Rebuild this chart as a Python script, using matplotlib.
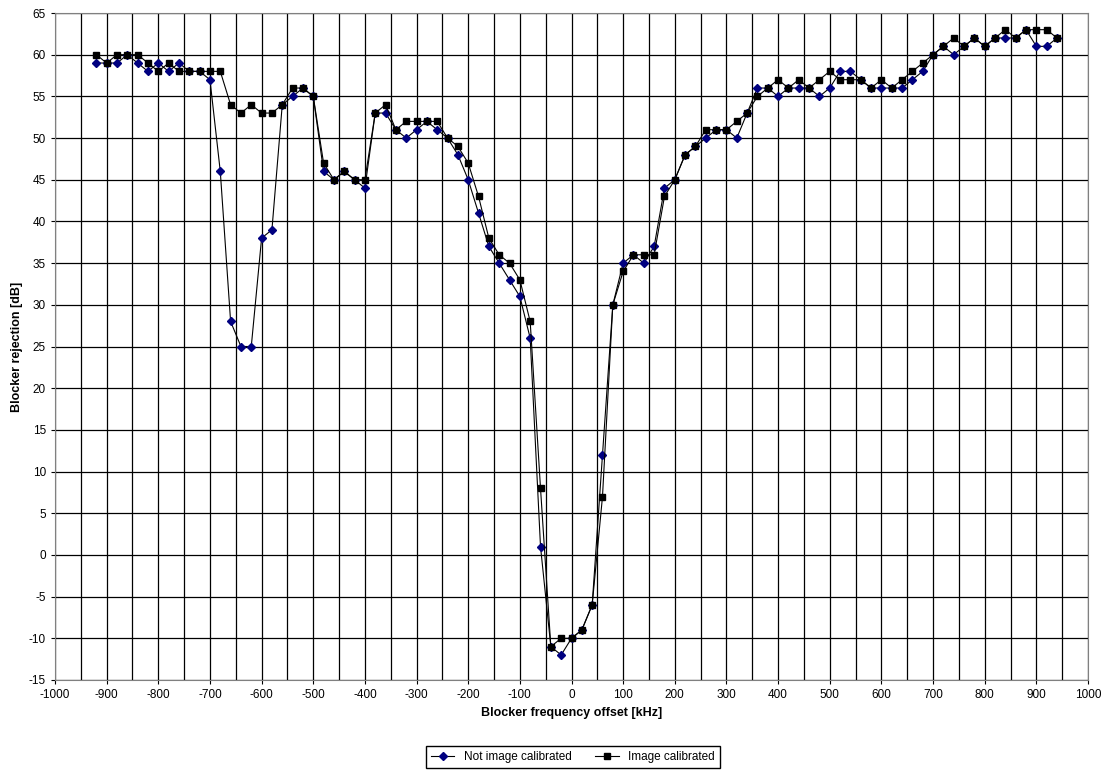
import numpy as np
import matplotlib.pyplot as plt

plt.rcParams['font.family'] = ['Liberation Sans', 'DejaVu Sans']
plt.rcParams['axes.unicode_minus'] = False

freq = list(range(-920, 941, 20))
not_calibrated = [59, 59, 59, 60, 59, 58, 59, 58, 59, 58, 58, 57, 46, 28, 25, 25, 38, 39, 54, 55,
                  56, 55, 46, 45, 46, 45, 44, 53, 53, 51, 50, 51, 52, 51, 50, 48, 45, 41, 37, 35,
                  33, 31, 26, 1, -11, -12, -10, -9, -6, 12, 30, 35, 36, 35, 37, 44, 45, 48, 49, 50,
                  51, 51, 50, 53, 56, 56, 55, 56, 56, 56, 55, 56, 58, 58, 57, 56, 56, 56, 56, 57,
                  58, 60, 61, 60, 61, 62, 61, 62, 62, 62, 63, 61, 61, 62]
calibrated = [60, 59, 60, 60, 60, 59, 58, 59, 58, 58, 58, 58, 58, 54, 53, 54, 53, 53, 54, 56,
              56, 55, 47, 45, 46, 45, 45, 53, 54, 51, 52, 52, 52, 52, 50, 49, 47, 43, 38, 36,
              35, 33, 28, 8, -11, -10, -10, -9, -6, 7, 30, 34, 36, 36, 36, 43, 45, 48, 49, 51,
              51, 51, 52, 53, 55, 56, 57, 56, 57, 56, 57, 58, 57, 57, 57, 56, 57, 56, 57, 58,
              59, 60, 61, 62, 61, 62, 61, 62, 63, 62, 63, 63, 63, 62]

fig = plt.figure(figsize=(11.06, 7.73), dpi=100)
ax = fig.add_axes([55/1106, 1 - 680/773, 1033/1106, 667/773])

ax.plot(freq, not_calibrated, color='black', linewidth=0.8, marker='D', markersize=3.8,
        markerfacecolor='#000080', markeredgecolor='#000080', label='Not image calibrated')
ax.plot(freq, calibrated, color='black', linewidth=0.8, marker='s', markersize=4.8,
        markerfacecolor='black', markeredgecolor='black', label='Image calibrated')

ax.set_xlim(-1000, 1000)
ax.set_ylim(-15, 65)
ax.set_xticks(range(-1000, 1001, 100))
ax.set_xticks(range(-1000, 1001, 50), minor=True)
ax.set_yticks(range(-15, 66, 5))
ax.grid(True, which='both', color='black', linewidth=0.9)
ax.tick_params(labelsize=8.5, length=3)
ax.tick_params(which='minor', length=0)
for s in ax.spines.values():
    s.set_color('#808080')

ax.set_xlabel('Blocker frequency offset [kHz]', fontsize=9, fontweight='bold')
ax.set_ylabel('Blocker rejection [dB]', fontsize=9, fontweight='bold')

fig.legend(loc='center', bbox_to_anchor=(0.518, 1 - 757/773), ncol=2, fontsize=8.5,
           frameon=True, fancybox=False, edgecolor='black', framealpha=1)

fig.savefig('out.png', dpi=100)
